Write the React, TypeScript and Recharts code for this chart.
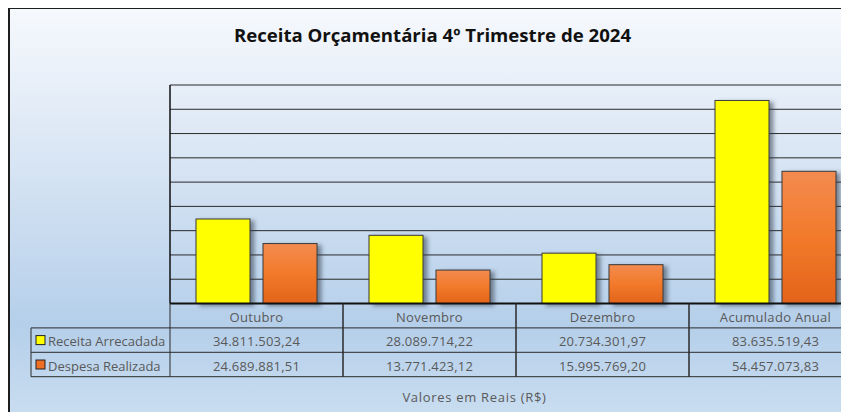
import { Bar, BarChart, CartesianGrid, XAxis, YAxis } from 'recharts';

const categories = ['Outubro', 'Novembro', 'Dezembro', 'Acumulado Anual'];
const receita = [34811503.24, 28089714.22, 20734301.97, 83635519.43];
const despesa = [24689881.51, 13771423.12, 15995769.2, 54457073.83];
const seriesNames = ['Receita Arrecadada', 'Despesa Realizada'];
const yTicks = [0, 10e6, 20e6, 30e6, 40e6, 50e6, 60e6, 70e6, 80e6, 90e6];

const data = categories.map((c, i) => ({ name: c, receita: receita[i], despesa: despesa[i] }));

const W = 880;
const H = 405;
const M = { top: 78, right: 26, bottom: 0, left: 161 };
const AXIS_H = 108.5;
const Y_W = 1;
const BAND = (W - M.left - Y_W - M.right) / categories.length;
const ROW = 24.4;
const FONT = '"Open Sans", sans-serif';
const TXT = '#595959';
const LINE = '#2a2a2a';

// pt-BR number format: 34.811.503,24
const fmt = (v: number) => {
  const [int, dec] = v.toFixed(2).split('.');
  return int.replace(/\B(?=(\d{3})+(?!\d))/g, '.') + ',' + dec;
};

const ShadowBar = (props: any) => {
  const { x, y, width, height, fill } = props;
  if (!height || height <= 0) return null;
  return (
    <rect x={x} y={y} width={width} height={height} fill={fill} stroke="#3a3a3a" strokeWidth={1} filter="url(#barShadow)" />
  );
};

const EmptyTick = () => <g />;

const TableTick = (props: any) => {
  const { x, y, index } = props;
  const left = x - BAND / 2;
  const right = x + BAND / 2;
  const rows = [receita, despesa];
  return (
    <g fontFamily={FONT} fontSize={13} fill={TXT}>
      <line x1={left} x2={left} y1={y} y2={y + ROW * 3} stroke={LINE} />
      <line x1={right} x2={right} y1={y} y2={y + ROW * 3} stroke={LINE} />
      {[1, 2, 3].map((r) => (
        <line key={r} x1={index === 0 ? left - 139 : left} x2={right} y1={y + ROW * r} y2={y + ROW * r} stroke={LINE} />
      ))}
      <text x={x} y={y + ROW / 2 + 1} textAnchor="middle" dominantBaseline="central" letterSpacing={0.3}>
        {categories[index]}
      </text>
      {rows.map((r, k) => (
        <text key={k} x={x} y={y + ROW * (k + 1.5) + 1} textAnchor="middle" dominantBaseline="central" letterSpacing={0.2}>
          {fmt(r[index])}
        </text>
      ))}
      {index === 0 && (
        <g>
          <line x1={left - 139} x2={left - 139} y1={y + ROW} y2={y + ROW * 3} stroke={LINE} />
          {seriesNames.map((n, k) => (
            <g key={n}>
              <rect
                x={left - 134}
                y={y + ROW * (k + 1.5) - 4.5}
                width={9}
                height={9}
                fill={k === 0 ? '#ffff00' : '#ec6f24'}
                stroke="#222"
              />
              <text x={left - 122} y={y + ROW * (k + 1.5) + 1} dominantBaseline="central">
                {n}
              </text>
            </g>
          ))}
        </g>
      )}
    </g>
  );
};

export default function App() {
  return (
    <div style={{ position: 'relative', width: 841, height: 405, overflow: 'hidden', marginTop: -1 }}>
      <div
        style={{
          position: 'absolute',
          left: 0,
          top: 0,
          width: 900,
          height: 430,
          boxSizing: 'border-box',
          border: '2px solid #1e1e1e',
          background: 'linear-gradient(to bottom, #f6f9fd 0%, #dde8f5 30%, #b5cfea 74%, #cde0f1 100%)',
        }}
      />
      <div
        style={{
          position: 'absolute',
          left: 0,
          width: 849,
          top: 15,
          textAlign: 'center',
          fontFamily: FONT,
          fontWeight: 700,
          fontSize: 18.6,
          color: '#111',
        }}
      >
        Receita Orçamentária 4º Trimestre de 2024
      </div>
      <div style={{ position: 'absolute', left: 0, top: 0 }}>
        <BarChart width={W} height={H} data={data} margin={M} barCategoryGap={26} barGap={13}>
          <defs>
            <linearGradient id="orangeGrad" x1="0" y1="0" x2="0" y2="1">
              <stop offset="0%" stopColor="#f38b50" />
              <stop offset="50%" stopColor="#f27a2a" />
              <stop offset="100%" stopColor="#e3631a" />
            </linearGradient>
            <filter id="barShadow" x="-20%" y="-10%" width="160%" height="130%">
              <feDropShadow dx={4} dy={2} stdDeviation={2} floodColor="#2d3a4a" floodOpacity={0.55} />
            </filter>
          </defs>
          <CartesianGrid vertical={false} stroke={LINE} strokeOpacity={1} />
          <XAxis
            dataKey="name"
            height={AXIS_H}
            interval={0}
            tickLine={false}
            tickSize={0}
            tickMargin={0}
            axisLine={{ stroke: '#111', strokeWidth: 2 }}
            tick={<TableTick />}
          />
          <YAxis
            type="number"
            width={Y_W}
            domain={[0, 90e6]}
            ticks={yTicks}
            interval={0}
            tick={<EmptyTick />}
            tickLine={false}
            axisLine={{ stroke: '#111', strokeWidth: 1.5 }}
          />
          <Bar dataKey="receita" name={seriesNames[0]} fill="#ffff00" shape={<ShadowBar />} isAnimationActive={false} />
          <Bar dataKey="despesa" name={seriesNames[1]} fill="url(#orangeGrad)" shape={<ShadowBar />} isAnimationActive={false} />
        </BarChart>
      </div>
      <div
        style={{
          position: 'absolute',
          left: 0,
          width: 933,
          top: 381,
          textAlign: 'center',
          fontFamily: FONT,
          fontSize: 13,
          letterSpacing: 0.7,
          color: TXT,
        }}
      >
        Valores em Reais (R$)
      </div>
    </div>
  );
}
